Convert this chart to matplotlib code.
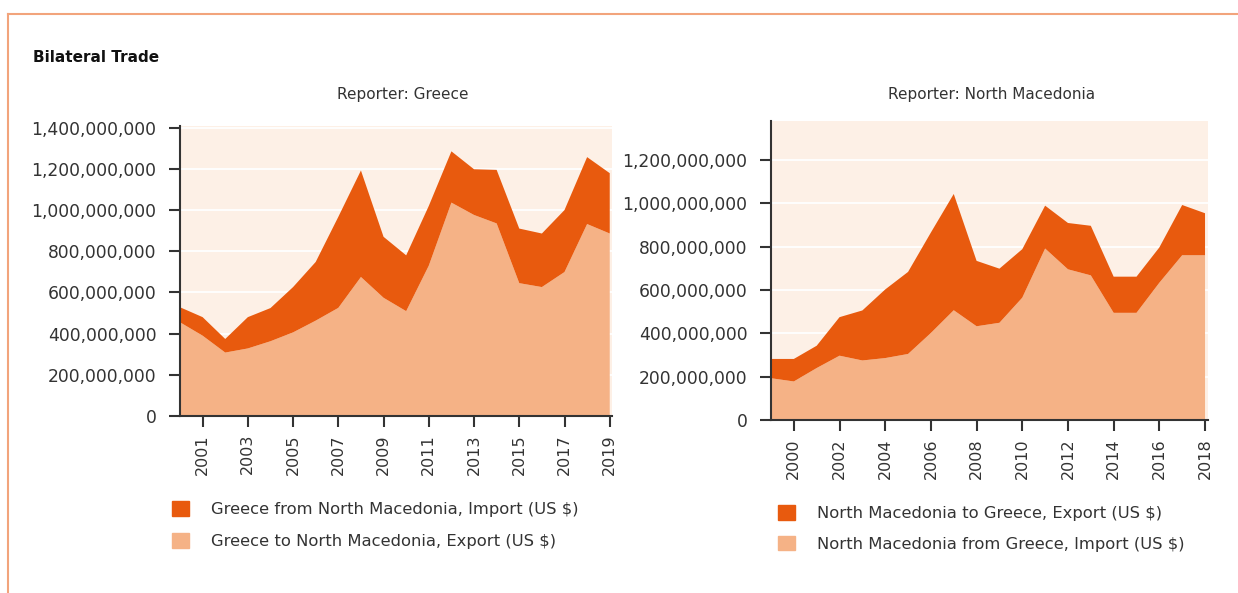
import matplotlib
matplotlib.use("Agg")
import matplotlib.pyplot as plt
from matplotlib.lines import Line2D
from matplotlib.patches import Patch
from matplotlib.ticker import FuncFormatter


#------------------------------------------ data (millions of US $) ------------------------------------------

greeceYears = list(range(2000, 2020))
greeceImport = [73, 90, 66, 152, 161, 220, 285, 442, 517, 296,
                271, 290, 249, 222, 260, 265, 260, 301, 325, 293]
greeceExport = [455, 390, 308, 328, 363, 406, 463, 525, 675, 574,
                509, 730, 1036, 976, 935, 645, 626, 699, 932, 886]

macedoniaYears = list(range(1999, 2019))
macedoniaExport = [89, 104, 103, 178, 231, 317, 379, 464, 537, 302,
                   250, 224, 198, 214, 229, 167, 167, 163, 232, 194]
macedoniaImport = [193, 178, 240, 297, 275, 286, 305, 402, 507, 433,
                   449, 565, 792, 696, 668, 495, 495, 634, 761, 761]

greeceLabels = ["Greece from North Macedonia, Import (US $)", "Greece to North Macedonia, Export (US $)"]
macedoniaLabels = ["North Macedonia to Greece, Export (US $)", "North Macedonia from Greece, Import (US $)"]

darkOrange = "#E85A0E"
lightOrange = "#F5B286"
background = "#FDF0E6"
textColor = "#333333"

plt.rcParams["font.family"] = "DejaVu Sans"

fig = plt.figure(figsize=(12.38, 5.93), dpi=100)

# frame lines of the panel
fig.add_artist(Line2D([8 / 1238, 1], [1 - 14 / 593, 1 - 14 / 593], color="#F2A47C", linewidth=1.5))
fig.add_artist(Line2D([8 / 1238, 8 / 1238], [0, 1 - 14 / 593], color="#F2A47C", linewidth=1.5))

fig.text(33 / 1238, 1 - 58 / 593, "Bilateral Trade", fontsize=11, fontweight="bold",
         color="#111111", ha="left", va="center")


def style_axes(ax, yTop, yTicks, xTicks):
    ax.set_facecolor(background)
    ax.set_ylim(0, yTop)
    ax.set_yticks(yTicks)
    ax.yaxis.set_major_formatter(FuncFormatter(lambda v, p: "{:,.0f}".format(v)))
    ax.set_xticks(xTicks)
    ax.set_xticklabels([str(x) for x in xTicks], rotation=90)
    ax.yaxis.grid(True, color="white", linewidth=1.3)
    ax.set_axisbelow(True)
    for side in ["top", "right"]:
        ax.spines[side].set_visible(False)
    for side in ["left", "bottom"]:
        ax.spines[side].set_color(textColor)
        ax.spines[side].set_linewidth(1.5)
    ax.tick_params(axis="y", length=8, width=1.5, color=textColor, labelcolor=textColor,
                   labelsize=12.3, pad=9)
    ax.tick_params(axis="x", length=8, width=1.5, color=textColor, labelcolor=textColor,
                   labelsize=11.5, pad=5)


#------------------------------------------ Reporter: Greece --------------------------------------------------

ax1 = fig.add_axes([180 / 1238, 1 - 416 / 593, 432 / 1238, 290 / 593])
ax1.stackplot(greeceYears,
              [v * 1e6 for v in greeceExport],
              [v * 1e6 for v in greeceImport],
              colors=[lightOrange, darkOrange], linewidth=0)
ax1.set_xlim(2000, 2019.1)
style_axes(ax1, 1.408e9, range(0, 1400000001, 200000000), range(2001, 2020, 2))
fig.text(403 / 1238, 1 - 94 / 593, "Reporter: Greece", fontsize=11, color=textColor,
         ha="center", va="center")

handles1 = [Patch(color=darkOrange), Patch(color=lightOrange)]
ax1.legend(handles1, greeceLabels, loc="upper left", bbox_to_anchor=(172 / 1238, 1 - 501 / 593),
           bbox_transform=fig.transFigure, frameon=False, fontsize=11.8, labelcolor=textColor,
           borderpad=0, borderaxespad=0, handlelength=1.05, handleheight=1.0,
           handletextpad=1.35, labelspacing=1.0)


#------------------------------------------ Reporter: North Macedonia -----------------------------------------

ax2 = fig.add_axes([771 / 1238, 1 - 420 / 593, 437 / 1238, 299 / 593])
ax2.stackplot(macedoniaYears,
              [v * 1e6 for v in macedoniaImport],
              [v * 1e6 for v in macedoniaExport],
              colors=[lightOrange, darkOrange], linewidth=0)
ax2.set_xlim(1999, 2018.13)
style_axes(ax2, 1.381e9, range(0, 1200000001, 200000000), range(2000, 2019, 2))
fig.text(992 / 1238, 1 - 95 / 593, "Reporter: North Macedonia", fontsize=11, color=textColor,
         ha="center", va="center")

handles2 = [Patch(color=darkOrange), Patch(color=lightOrange)]
ax2.legend(handles2, macedoniaLabels, loc="upper left", bbox_to_anchor=(778 / 1238, 1 - 505 / 593),
           bbox_transform=fig.transFigure, frameon=False, fontsize=11.8, labelcolor=textColor,
           borderpad=0, borderaxespad=0, handlelength=1.05, handleheight=1.0,
           handletextpad=1.35, labelspacing=0.9)

fig.savefig("out.png", dpi=100)
